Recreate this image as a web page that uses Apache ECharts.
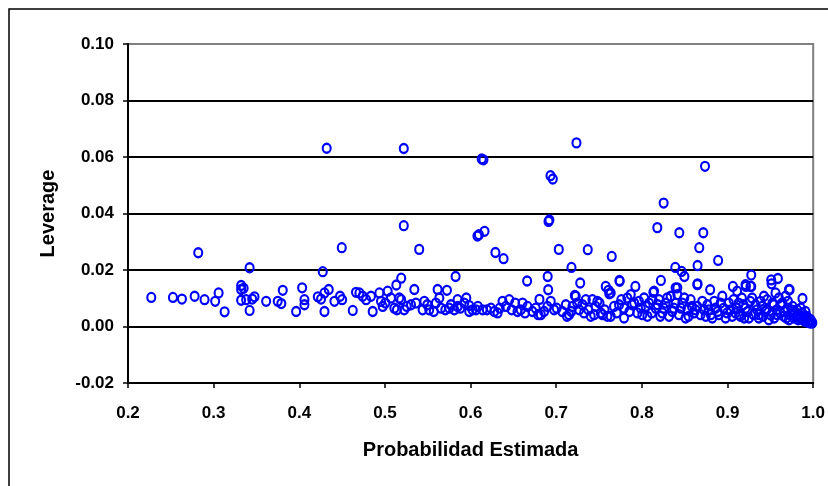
<!DOCTYPE html>
<html>
<head>
<meta charset="utf-8">
<script src="https://cdn.jsdelivr.net/npm/echarts@6/dist/echarts.min.js"></script>
<style>
  html, body { margin: 0; padding: 0; background: #fff; }
  #chart { width: 828px; height: 486px; }
</style>
</head>
<body>
<div id="chart"></div>
<script>
// Tick values of both axes
const xTicks = [0.2, 0.3, 0.4, 0.5, 0.6, 0.7, 0.8, 0.9, 1.0];
const yTicks = [-0.02, 0.00, 0.02, 0.04, 0.06, 0.08, 0.10];

// Observations with high leverage (estimated probability, leverage)
const probAlta = [0.432,0.522,0.613,0.615,0.7236,0.6933,0.696,0.8737,0.8254,0.692,0.691,0.522,0.6097,0.6163,0.608,0.818,0.8437,0.8717,
  0.282,0.4496,0.540,0.629,0.6385,0.703,0.7368,0.7648,0.867,0.865,0.889,0.839,0.8464,0.8496,0.7178,0.342,0.4274,0.5825,0.519,0.5133,
  0.666,0.690,0.6906,0.728,0.7738,0.8222,0.865,0.9277,0.951,0.9514,0.9588,0.7924,0.7578,0.761,0.762,0.9063,0.9214,0.9277,0.9725,
  0.9875,0.8797,0.8414,0.8134,0.6804,0.7217];
const levAlta = [0.0631,0.0630,0.0593,0.0590,0.0650,0.0534,0.0522,0.0567,0.0437,0.0377,0.0372,0.0357,0.0325,0.0337,0.0320,0.0350,0.0332,0.0332,
  0.0261,0.0279,0.0273,0.0262,0.0240,0.0273,0.0272,0.0248,0.0279,0.0216,0.0234,0.0209,0.0195,0.0177,0.0209,0.0208,0.0194,0.0177,0.0171,0.0147,
  0.0161,0.0177,0.0130,0.0154,0.0163,0.0163,0.0151,0.0182,0.0165,0.0151,0.0170,0.0142,0.0142,0.0128,0.0116,0.0142,0.0142,0.0142,0.0130,
  0.0099,0.0130,0.0137,0.0121,0.0096,0.0110];

// Bulk of the observations (estimated probability, leverage)
const probBanda = [0.2272,0.2525,0.263,0.2778,0.2894,0.3018,0.3058,0.3128,0.3321,0.3321,0.3321,0.335,0.338,0.342,0.3477,0.345,0.3613,0.3748,
  0.379,0.3807,0.3963,0.4033,0.406,0.406,0.4216,0.4254,0.4294,0.4344,0.4294,0.441,0.4476,0.450,0.4624,0.4662,0.4702,0.474,0.478,0.4837,
  0.4857,0.4935,0.4954,0.4974,0.5032,0.511,0.514,0.519,0.5225,0.5168,0.5343,0.5304,0.5362,0.546,0.544,0.5517,0.5615,0.5635,0.5595,0.5724,
  0.5655,0.5752,0.577,0.5848,0.5848,0.581,0.5926,0.5984,0.5984,0.6023,0.6062,0.614,0.6237,0.6276,0.6315,0.6373,0.6451,0.6412,0.6548,
  0.6606,0.6664,0.6722,0.682,0.6858,0.6897,0.6936,0.6975,0.7112,0.715,0.719,0.7228,0.7268,0.7306,0.7345,0.7423,0.7481,0.7403,0.754,
  0.7636,0.7636,0.7741,0.7733,0.7792,0.7792,0.783,0.787,0.791,0.7948,0.7987,0.8026,0.8064,0.8084,0.8142,0.8161,0.82,0.8239,0.8277,
  0.8317,0.8336,0.8394,0.8414,0.8374,0.8433,0.8472,0.851,0.853,0.8569,0.8608,0.8647,0.8647,0.7442,0.752,0.7597,0.8939,0.892,0.886,
  0.878,0.8745,0.8822,0.890,0.8977,0.907,0.913,0.9167,0.9035,0.9093,0.915,0.921,0.925,0.9327,0.9385,0.9425,0.9463,0.9366,0.9443,
  0.9482,0.956,0.960,0.954,0.9638,0.9677,0.9697,0.958,0.9657,0.9717,0.976,0.9813,0.9833,0.9872,0.989,0.993,0.995,0.997,0.999,0.991,
  0.9112,0.921,0.9268,0.9287,0.9717,
  0.5005,0.507,0.5255,0.5495,0.557,0.5705,0.588,0.595,0.6085,0.619,0.634,0.648,0.652,0.6585,0.6635,0.676,0.679,0.7005,0.707,0.7125,
  0.7175,0.7245,0.7325,0.7375,0.746,0.7505,0.7565,0.7675,0.7705,0.776,0.7855,0.7885,0.7965,0.8005,0.8045,0.8115,0.8125,0.8185,0.8215,
  0.8255,0.8295,0.8355,0.8395,0.8455,0.8495,0.8545,0.8585,0.8625,0.8685,0.8705,0.8725,0.8765,0.8805,0.8845,0.8885,0.8955,0.8995,
  0.9015,0.9055,0.9105,0.9135,0.9185,0.9195,0.9235,0.9265,0.9305,0.9345,0.9365,0.9405,0.9415,0.9455,0.9505,0.9525,0.9545,0.9575,
  0.9615,0.9625,0.9665,0.9685,0.9705,0.9735,0.9745,0.9775,0.9785,0.9805,0.9825,0.9845,0.9855,0.9885,0.9905,0.9925,0.9935,0.9955,
  0.9965,0.9975,0.9985];
const levBanda = [0.0103,0.0103,0.0097,0.0107,0.0095,0.0089,0.0119,0.0052,0.0145,0.0131,0.0093,0.0135,0.0095,0.0057,0.0105,0.0097,0.0089,0.0089,
  0.0081,0.0128,0.0053,0.0137,0.0095,0.0077,0.0105,0.0097,0.0119,0.0131,0.0053,0.0089,0.0107,0.0095,0.0057,0.0121,0.0119,0.0107,0.0095,0.0107,
  0.0053,0.0119,0.0089,0.0071,0.0125,0.0065,0.0059,0.0095,0.0059,0.0101,0.0131,0.0077,0.0083,0.0089,0.0059,0.0059,0.0131,0.0101,0.0083,0.0128,
  0.0065,0.0065,0.0077,0.0095,0.0071,0.0059,0.0083,0.0074,0.0053,0.0059,0.0059,0.0059,0.0065,0.0053,0.0048,0.0089,0.0095,0.0071,0.0053,
  0.0083,0.0071,0.0053,0.0042,0.0053,0.0071,0.0089,0.0059,0.0077,0.0042,0.0071,0.0107,0.0059,0.0077,0.0095,0.0095,0.0089,0.0036,0.0042,
  0.0036,0.0119,0.0160,0.0077,0.0065,0.0030,0.0101,0.0113,0.0083,0.0048,0.0065,0.0101,0.0036,0.0083,0.0125,0.0065,0.0095,0.0048,0.0083,
  0.0036,0.0107,0.0137,0.0113,0.0065,0.0042,0.0083,0.0030,0.0059,0.0095,0.0048,0.0071,0.0148,0.0042,0.0048,0.0036,0.0107,0.0083,0.0065,
  0.0059,0.0036,0.0030,0.0042,0.0030,0.0095,0.0083,0.0101,0.0059,0.0048,0.0036,0.0065,0.0030,0.0077,0.0089,0.0107,0.0095,0.0042,0.0053,
  0.0024,0.0119,0.0101,0.0077,0.0083,0.0107,0.0065,0.0042,0.0036,0.0024,0.0071,0.0059,0.0042,0.0048,0.0036,0.0030,0.0018,0.0024,0.0012,0.0053,
  0.0125,0.0148,0.0142,0.0101,0.0131,
  0.0083,0.0101,0.0071,0.0077,0.0053,0.0059,0.0065,0.0101,0.0071,0.0059,0.0065,0.0059,0.0083,0.0059,0.0048,0.0065,0.0042,0.0065,0.0053,0.0036,
  0.0053,0.0083,0.0048,0.0059,0.0071,0.0083,0.0059,0.0071,0.0048,0.0095,0.0053,0.0077,0.0089,0.0042,0.0071,0.0048,0.0095,0.0077,0.0036,
  0.0065,0.0101,0.0053,0.0083,0.0065,0.0101,0.0036,0.0071,0.0059,0.0042,0.0089,0.0059,0.0077,0.0042,0.0089,0.0053,0.0065,0.0048,
  0.0083,0.0036,0.0065,0.0042,0.0077,0.0030,0.0053,0.0089,0.0042,0.0059,0.0030,0.0071,0.0036,0.0059,0.0041,0.0083,0.0030,0.0059,
  0.0048,0.0077,0.0053,0.0030,0.0089,0.0042,0.0059,0.0030,0.0053,0.0036,0.0024,0.0030,0.0065,0.0024,0.0018,0.0036,0.0015,0.0024,
  0.0012,0.0018,0.0015];

const puntos = probAlta.map((p, i) => [p, levAlta[i]])
  .concat(probBanda.map((p, i) => [p, levBanda[i]]));

const FONT = "'Liberation Sans', Arial, sans-serif";
const chart = echarts.init(document.getElementById('chart'), null, { renderer: 'canvas' });

chart.setOption({
  animation: false,
  backgroundColor: '#ffffff',
  graphic: [{
    type: 'rect',
    shape: { x: 9, y: 9, width: 840, height: 500 },
    style: { fill: 'none', stroke: '#000000', lineWidth: 1.5 },
    silent: true
  }],
  grid: {
    left: 128, right: 14, top: 44, bottom: 103,
    show: true, borderColor: '#808080', borderWidth: 2, backgroundColor: 'transparent'
  },
  xAxis: {
    type: 'value',
    min: xTicks[0], max: xTicks[xTicks.length - 1], interval: 0.1,
    name: 'Probabilidad Estimada',
    nameLocation: 'middle', nameGap: 57,
    nameTextStyle: { fontFamily: FONT, fontWeight: 'bold', fontSize: 20, color: '#000' },
    axisLine: { show: true, onZero: false, lineStyle: { color: '#000', width: 2 } },
    axisTick: { show: true, length: 5, inside: false, lineStyle: { color: '#000', width: 1.5 } },
    axisLabel: {
      margin: 22, fontFamily: FONT, fontWeight: 'bold', fontSize: 17, color: '#000',
      formatter: v => v.toFixed(1)
    },
    splitLine: { show: false }
  },
  yAxis: {
    type: 'value',
    min: yTicks[0], max: yTicks[yTicks.length - 1], interval: 0.02,
    name: 'Leverage',
    nameLocation: 'middle', nameGap: 70, nameRotate: 90,
    nameTextStyle: { fontFamily: FONT, fontWeight: 'bold', fontSize: 20, color: '#000' },
    axisLine: { show: true, onZero: false, lineStyle: { color: '#000', width: 2 } },
    axisTick: { show: true, length: 5, inside: false, lineStyle: { color: '#000', width: 1.5 } },
    axisLabel: {
      margin: 14, fontFamily: FONT, fontWeight: 'bold', fontSize: 17, color: '#000',
      formatter: v => v.toFixed(2)
    },
    splitLine: {
      show: true,
      lineStyle: { color: ['#000', '#000', '#000', '#000', '#000', '#000', '#808080'], width: 2 }
    }
  },
  series: [{
    type: 'scatter',
    data: puntos,
    symbol: 'circle',
    symbolSize: [8, 9],
    itemStyle: { color: 'rgba(0,0,0,0)', borderColor: '#0000ff', borderWidth: 2.2, opacity: 1 },
    clip: false,
    z: 3
  }]
});
</script>
</body>
</html>
